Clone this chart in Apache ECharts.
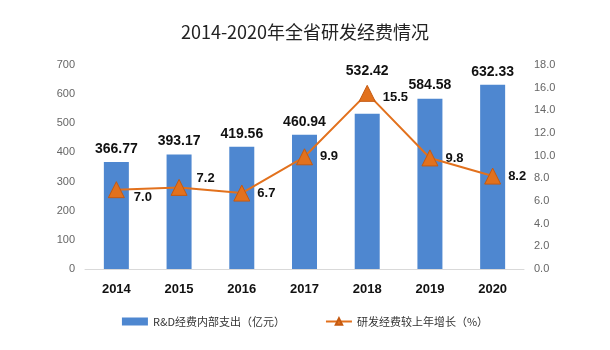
<!DOCTYPE html>
<html>
<head>
<meta charset="utf-8">
<script src="https://cdn.jsdelivr.net/npm/echarts@6/dist/echarts.min.js"></script>
<style>
  html, body { margin: 0; padding: 0; background: #fff; }
  #main { width: 610px; height: 350px; }
</style>
</head>
<body>
<div id="main"></div>
<script>
// 数据
let years = ['2014', '2015', '2016', '2017', '2018', '2019', '2020'];
let spending = [366.77, 393.17, 419.56, 460.94, 532.42, 584.58, 632.33];
let growth = [7.0, 7.2, 6.7, 9.9, 15.5, 9.8, 8.2];

window.addEventListener('load', function () {
    let chart = echarts.init(document.getElementById('main'));
    let font = 'Arial, "Liberation Sans", "Noto Sans CJK SC", sans-serif';

    // 个别标签位置微调
    let barLabelOffset = [[0, 0], [0, 0], [0, 0], [0, 0], [0, -30], [0, 0], [0, 0]];
    let lineLabelOffset = [[2, 8], [2, -9], [0, 0], [0, 0], [0, 4], [0, 0], [0, 0]];

    let option = {
        title: {
            text: '2014-2020年全省研发经费情况',
            left: 'center',
            top: 18,
            textStyle: { fontSize: 18, fontWeight: 'normal', color: '#222', fontFamily: '"Noto Sans CJK SC", sans-serif' }
        },
        legend: {
            bottom: 18,
            left: 'center',
            itemGap: 40,
            itemWidth: 26,
            itemHeight: 8,
            textStyle: { fontSize: 11, color: '#333', fontFamily: '"Noto Sans CJK SC", sans-serif' },
            data: [
                { name: 'R&D经费内部支出（亿元）', icon: 'rect' },
                { name: '研发经费较上年增长（%）' }
            ]
        },
        grid: { left: 85, right: 86, top: 65, bottom: 81 },
        xAxis: {
            type: 'category',
            data: years,
            axisTick: { show: false },
            axisLine: { lineStyle: { color: '#d9d9d9' } },
            axisLabel: { fontSize: 13, fontWeight: 'bold', color: '#111', margin: 14, fontFamily: font }
        },
        yAxis: [{
            type: 'value',
            min: 0, max: 700, interval: 100,
            splitLine: { show: false },
            axisLabel: { fontSize: 11, color: '#666', margin: 10, fontFamily: font }
        }, {
            type: 'value',
            min: 0, max: 18, interval: 2,
            splitLine: { show: false },
            axisLabel: {
                fontSize: 11, color: '#666', margin: 10, fontFamily: font,
                formatter: function (v) { return v.toFixed(1); }
            }
        }],
        series: [{
            name: 'R&D经费内部支出（亿元）',
            type: 'bar',
            data: spending.map(function (v, i) {
                return { value: v, label: { offset: barLabelOffset[i] } };
            }),
            barWidth: 25,
            itemStyle: { color: '#4E87D0' },
            label: {
                show: true, position: 'top', distance: 6,
                fontSize: 14, fontWeight: 'bold', color: '#111', fontFamily: font,
                formatter: function (p) { return p.value.toFixed(2); }
            }
        }, {
            name: '研发经费较上年增长（%）',
            type: 'line',
            yAxisIndex: 1,
            data: growth.map(function (v, i) {
                return { value: v, label: { offset: lineLabelOffset[i] } };
            }),
            symbol: 'triangle',
            symbolSize: 16,
            lineStyle: { color: '#E2711D', width: 2 },
            itemStyle: { color: '#E2711D', borderColor: '#C55A11', borderWidth: 1 },
            label: {
                show: true, position: 'right', distance: 7,
                fontSize: 13, fontWeight: 'bold', color: '#111', fontFamily: font,
                formatter: function (p) { return p.value.toFixed(1); }
            }
        }]
    };
    chart.setOption(option);
}, false);
</script>
</body>
</html>
